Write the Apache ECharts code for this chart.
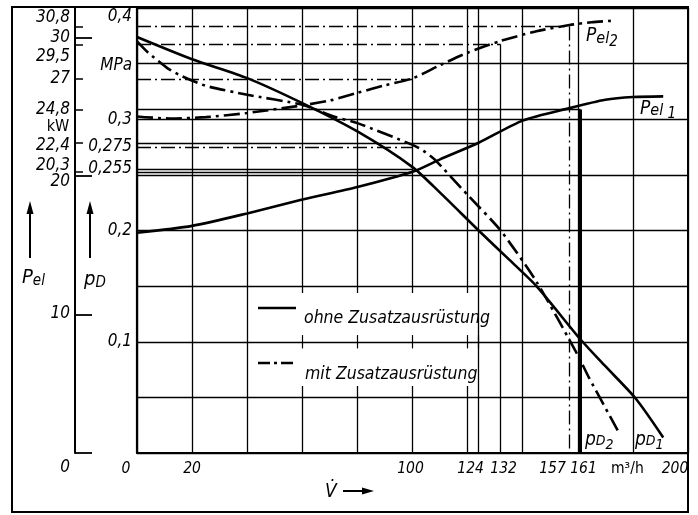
<!DOCTYPE html>
<html><head><meta charset="utf-8">
<script src="https://cdn.jsdelivr.net/npm/echarts@6/dist/echarts.min.js"></script>
<style>html,body{margin:0;padding:0;background:#fff}#c{width:698px;height:515px}</style>
</head><body><div id="c"></div>
<script>
// ---------------- data ----------------
// pressure curves p_D [MPa] over flow V [m3/h]
const flowP1 = [0,20,40,60,80,100,110,124,135,145,161,170,181,191];
const pD1    = [0.374,0.354,0.337,0.3145,0.289,0.257,0.234,0.200,0.174,0.150,0.102,0.078,0.049,0.014];
const flowP2 = [0,4,11,16,25,40,60,72,80,100,104,108,120,132,145,160,164,175];
const pD2    = [0.370,0.360,0.346,0.339,0.330,0.322,0.313,0.302,0.2965,0.277,0.2716,0.264,0.232,0.200,0.154,0.088,0.068,0.018];
// electric power curves P_el [kW]
const flowE1 = [0,20,40,60,80,100,110,124,140,157,170,180,191];
const pel1   = [15.9,16.4,17.3,18.3,19.2,20.3,21.2,22.4,24.0,24.9,25.5,25.7,25.75];
const flowE2 = [0,12,25,40,60,70,80,90,100,110,120,132,145,157,165,172];
const pel2   = [24.3,24.15,24.25,24.55,25.1,25.45,26.0,26.55,27.05,28.0,28.9,29.75,30.45,30.9,31.1,31.2];
// reference (operating point) lines
const pelRefVals  = [30.8, 29.5, 27, 24.8, 22.4, 20.3];
const pelRefFlows = [157, 132, 100, 161, 124, 100];
const pelRefMit   = [true, true, true, false, false, false];
const pdRefVals   = [0.275, 0.255];
const pdRefFlows  = [100, 100];
const pdRefMit    = [true, false];
// tick labels
const xLabelVals  = [0,20,100,124,132,157,161,178,200];
const xLabelTxt   = ['0','20','100','124','132','157','161','m³/h','200'];
const pdLabelVals = [0.1,0.2,0.255,0.275,0.3,0.35,0.4];
const pdLabelTxt  = ['0,1','0,2','0,255','0,275','0,3','MPa','0,4'];
const pelLabelVals = [0,10,20,20.3,22.4,24.8,27,29.5,30,30.8];
const pelLabelTxt  = ['0','10','20','20,3','22,4','24,8','27','29,5','30','30,8'];
const pelShortTicks = [20.3,22.4,24.8,27,29.5,30.8];
const pelLongTicks  = [0,10,20,30];
const legendStubFlows = [60,80,100,120,124];

// ---------------- layout / style ----------------
const FONT = "'Liberation Sans Narrow','DejaVu Sans Condensed',sans-serif";
const FONT2 = "'DejaVu Sans Condensed','Liberation Sans Narrow',sans-serif";
const BLACK = '#000';
const DASHDOT = [16,5,3,5];
const xShift  = [-11,0,-2,-8,3,-17,3,0,-13];
const xUpright = [false,false,false,false,false,false,false,true,false];
const pdShift = [0,0,-1,0,0,2,9];
const pelShift = [15,-1,6,-6,3,0,0,12,0,-9];

function pairs(xs, ys){ return xs.map((x,i)=>[x, ys[i]]); }
function findIdx(arr, v){ return arr.findIndex(a => Math.abs(a - v) < 1e-6); }
function richFor(n, shifts, horizontal, size, upright){
  const r = {};
  for (let i=0;i<n;i++){
    const s = shifts[i]; let pad;
    if (horizontal) pad = s<0 ? [0,-2*s,0,0] : [0,0,0,2*s];
    else pad = s>0 ? [2*s,0,0,0] : [0,0,-2*s,0];
    r['r'+i] = {padding: pad, fontSize:size, fontStyle:(upright && upright[i])?'normal':'italic', fontFamily:FONT, color:BLACK};
  }
  return r;
}
function mkFormatter(vals, txts){
  return function(v){ const i = findIdx(vals, v); return i<0 ? '' : '{r'+i+'|'+txts[i]+'}'; };
}

const chart = echarts.init(document.getElementById('c'));

const pelRefLines = pelRefVals.map((v,i)=>[
  {coord:[0,v], lineStyle:{color:BLACK,width:1.3,type: pelRefMit[i]?[14,4,2,4]:'solid'}},
  {coord:[pelRefFlows[i],v]}
]);
const pdRefLines = pdRefVals.map((v,i)=>[
  {coord:[0,v], lineStyle:{color:BLACK,width:1.3,type: pdRefMit[i]?[14,4,2,4]:'solid'}},
  {coord:[pdRefFlows[i],v]}
]);
const stubLines = legendStubFlows.map(f=>[
  {coord:[f,0.094], lineStyle:{color:BLACK,width:1.2,type:'solid'}}, {coord:[f,0.106]}
]);
// verticals from the P_el operating points down to the axis
const vert157 = [{coord:[pelRefFlows[0],pelRefVals[0]], lineStyle:{color:BLACK,width:1.3,type:[14,4,2,4]}},{coord:[pelRefFlows[0],0]}];
const vert132 = [{coord:[pelRefFlows[1],pelRefVals[1]], lineStyle:{color:BLACK,width:1.3,type:'solid'}},{coord:[pelRefFlows[1],0]}];
const vert161 = [{coord:[pelRefFlows[3],pelRefVals[3]], lineStyle:{color:BLACK,width:3,type:'solid'}},{coord:[pelRefFlows[3],0]}];

const ML = {silent:true, symbol:['none','none'], label:{show:false}, animation:false};

const option = {
  animation:false,
  backgroundColor:'#fff',
  grid:{left:137, right:10, top:8, bottom:62},
  xAxis:{
    type:'value', min:0, max:200, interval:20, z:0,
    axisLine:{show:true, onZero:false, lineStyle:{color:BLACK,width:2.2}},
    axisTick:{show:false},
    splitLine:{show:true, lineStyle:{color:BLACK,width:1.3}},
    axisLabel:{customValues:xLabelVals, margin:8, hideOverlap:false, formatter:mkFormatter(xLabelVals,xLabelTxt),
      rich:richFor(xLabelVals.length,xShift,true,15.5,xUpright), fontSize:15.5, fontStyle:'italic', fontFamily:FONT, color:BLACK}
  },
  yAxis:[
    { type:'value', min:0, max:0.4, interval:0.05, position:'left', z:2,
      axisLine:{show:true, onZero:false, lineStyle:{color:BLACK,width:2.2}},
      axisTick:{show:false},
      splitLine:{show:true, lineStyle:{color:BLACK,width:1.3}},
      axisLabel:{customValues:pdLabelVals, margin:5, formatter:mkFormatter(pdLabelVals,pdLabelTxt),
        rich:richFor(pdLabelVals.length,pdShift,false,17), fontSize:17, fontStyle:'italic', fontFamily:FONT, color:BLACK}
    },
    { type:'value', min:0, max:32.13, position:'left', offset:62, z:2,
      axisLine:{show:true, onZero:false, lineStyle:{color:BLACK,width:2}},
      axisTick:{show:true, inside:true, length:8, customValues:pelShortTicks, lineStyle:{color:BLACK,width:1.5}},
      splitLine:{show:false},
      axisLabel:{customValues:pelLabelVals, margin:5, formatter:mkFormatter(pelLabelVals,pelLabelTxt),
        rich:richFor(pelLabelVals.length,pelShift,false,17), fontSize:17, fontStyle:'italic', fontFamily:FONT, color:BLACK}
    },
    { type:'value', min:0, max:32.13, position:'left', offset:62, z:2,
      axisLine:{show:false, onZero:false},
      axisTick:{show:true, inside:true, length:17, customValues:pelLongTicks, lineStyle:{color:BLACK,width:1.8}},
      splitLine:{show:false}, axisLabel:{show:false}
    }
  ],
  series:[
    { name:'gridExtra', type:'line', yAxisIndex:0, data:[], z:0,
      markLine:Object.assign({}, ML, {data:[{xAxis:124, lineStyle:{color:BLACK,width:1.3,type:'solid'}}]}) },
    { name:'pD1', type:'line', yAxisIndex:0, data:pairs(flowP1,pD1), symbol:'none', smooth:0.25, z:4,
      lineStyle:{color:BLACK,width:2.6},
      markLine:Object.assign({}, ML, {data:pdRefLines.concat(stubLines)}) },
    { name:'pD2', type:'line', yAxisIndex:0, data:pairs(flowP2,pD2), symbol:'none', smooth:0.2, z:4,
      lineStyle:{color:BLACK,width:2.6,type:DASHDOT} },
    { name:'Pel1', type:'line', yAxisIndex:1, data:pairs(flowE1,pel1), symbol:'none', smooth:0.25, z:4,
      lineStyle:{color:BLACK,width:2.6},
      markLine:Object.assign({}, ML, {data:pelRefLines.concat([vert157, vert132, vert161])}) },
    { name:'Pel2', type:'line', yAxisIndex:1, data:pairs(flowE2,pel2), symbol:'none', smooth:0.25, z:4,
      lineStyle:{color:BLACK,width:2.6,type:DASHDOT} }
  ],
  graphic:[
    {type:'rect', z:1, silent:true, shape:{x:252,y:293,width:246,height:93}, style:{fill:'#fff'}},
    {type:'rect', z:20, silent:true, shape:{x:12,y:7,width:676,height:505}, style:{fill:null, stroke:BLACK, lineWidth:2}},
    // legend
    {type:'line', z:20, shape:{x1:258,y1:308,x2:296,y2:308}, style:{stroke:BLACK,lineWidth:2.6}},
    {type:'text', z:20, x:304, y:318, style:{text:'ohne Zusatzausrüstung', font:'italic 17.5px '+FONT2, fill:BLACK, verticalAlign:'middle'}},
    {type:'line', z:20, shape:{x1:258,y1:363,x2:296,y2:363}, style:{stroke:BLACK,lineWidth:2.6,lineDash:[12,4,3,4]}},
    {type:'text', z:20, x:305, y:374, style:{text:'mit Zusatzausrüstung', font:'italic 17.5px '+FONT2, fill:BLACK, verticalAlign:'middle'}},
    // axis arrows and names
    {type:'line', z:20, shape:{x1:30,y1:258,x2:30,y2:210}, style:{stroke:BLACK,lineWidth:2}},
    {type:'polygon', z:20, shape:{points:[[30,201],[26.5,214],[33.5,214]]}, style:{fill:BLACK}},
    {type:'text', z:20, x:22, y:278, style:{text:'{a|P}{b|el}', verticalAlign:'middle', rich:{
      a:{font:'italic 20px '+FONT, fill:BLACK}, b:{font:'italic 15px '+FONT, fill:BLACK, padding:[7,0,0,0]}}}},
    {type:'line', z:20, shape:{x1:90,y1:258,x2:90,y2:210}, style:{stroke:BLACK,lineWidth:2}},
    {type:'polygon', z:20, shape:{points:[[90,201],[86.5,214],[93.5,214]]}, style:{fill:BLACK}},
    {type:'text', z:20, x:84, y:280, style:{text:'{a|p}{b|D}', verticalAlign:'middle', rich:{
      a:{font:'italic 20px '+FONT, fill:BLACK}, b:{font:'italic 15px '+FONT, fill:BLACK, padding:[7,0,0,0]}}}},
    {type:'text', z:20, x:58, y:127, style:{text:'kW', font:'16px '+FONT, fill:BLACK, align:'center', verticalAlign:'middle'}},
    {type:'text', z:20, x:325, y:492, style:{text:'V\u0307', font:'italic 19px '+FONT, fill:BLACK, verticalAlign:'middle'}},
    {type:'line', z:20, shape:{x1:343,y1:491,x2:366,y2:491}, style:{stroke:BLACK,lineWidth:2}},
    {type:'polygon', z:20, shape:{points:[[374,491],[362,487.5],[362,494.5]]}, style:{fill:BLACK}},
    // curve labels
    {type:'text', z:20, x:586, y:36, style:{text:'{a|P}{b|el}{c|2}', verticalAlign:'middle', rich:{
      a:{font:'italic 19px '+FONT, fill:BLACK}, b:{font:'italic 16px '+FONT, fill:BLACK, padding:[5,0,0,0]}, c:{font:'italic 15px '+FONT, fill:BLACK, padding:[12,0,0,0]}}}},
    {type:'text', z:20, x:640, y:109, style:{text:'{a|P}{b|el}{c| 1}', verticalAlign:'middle', rich:{
      a:{font:'italic 19px '+FONT, fill:BLACK}, b:{font:'italic 16px '+FONT, fill:BLACK, padding:[3,0,0,0]}, c:{font:'italic 15px '+FONT, fill:BLACK, padding:[10,0,0,0]}}}},
    {type:'text', z:20, x:585, y:440, style:{text:'{a|p}{b|D}{c|2}', verticalAlign:'middle', rich:{
      a:{font:'italic 19px '+FONT, fill:BLACK}, b:{font:'italic 14px '+FONT, fill:BLACK, padding:[3,0,0,0]}, c:{font:'italic 14px '+FONT, fill:BLACK, padding:[10,0,0,0]}}}},
    {type:'text', z:20, x:635, y:440, style:{text:'{a|p}{b|D}{c|1}', verticalAlign:'middle', rich:{
      a:{font:'italic 19px '+FONT, fill:BLACK}, b:{font:'italic 14px '+FONT, fill:BLACK, padding:[3,0,0,0]}, c:{font:'italic 14px '+FONT, fill:BLACK, padding:[10,0,0,0]}}}}
  ]
};
chart.setOption(option);
</script>
</body></html>
